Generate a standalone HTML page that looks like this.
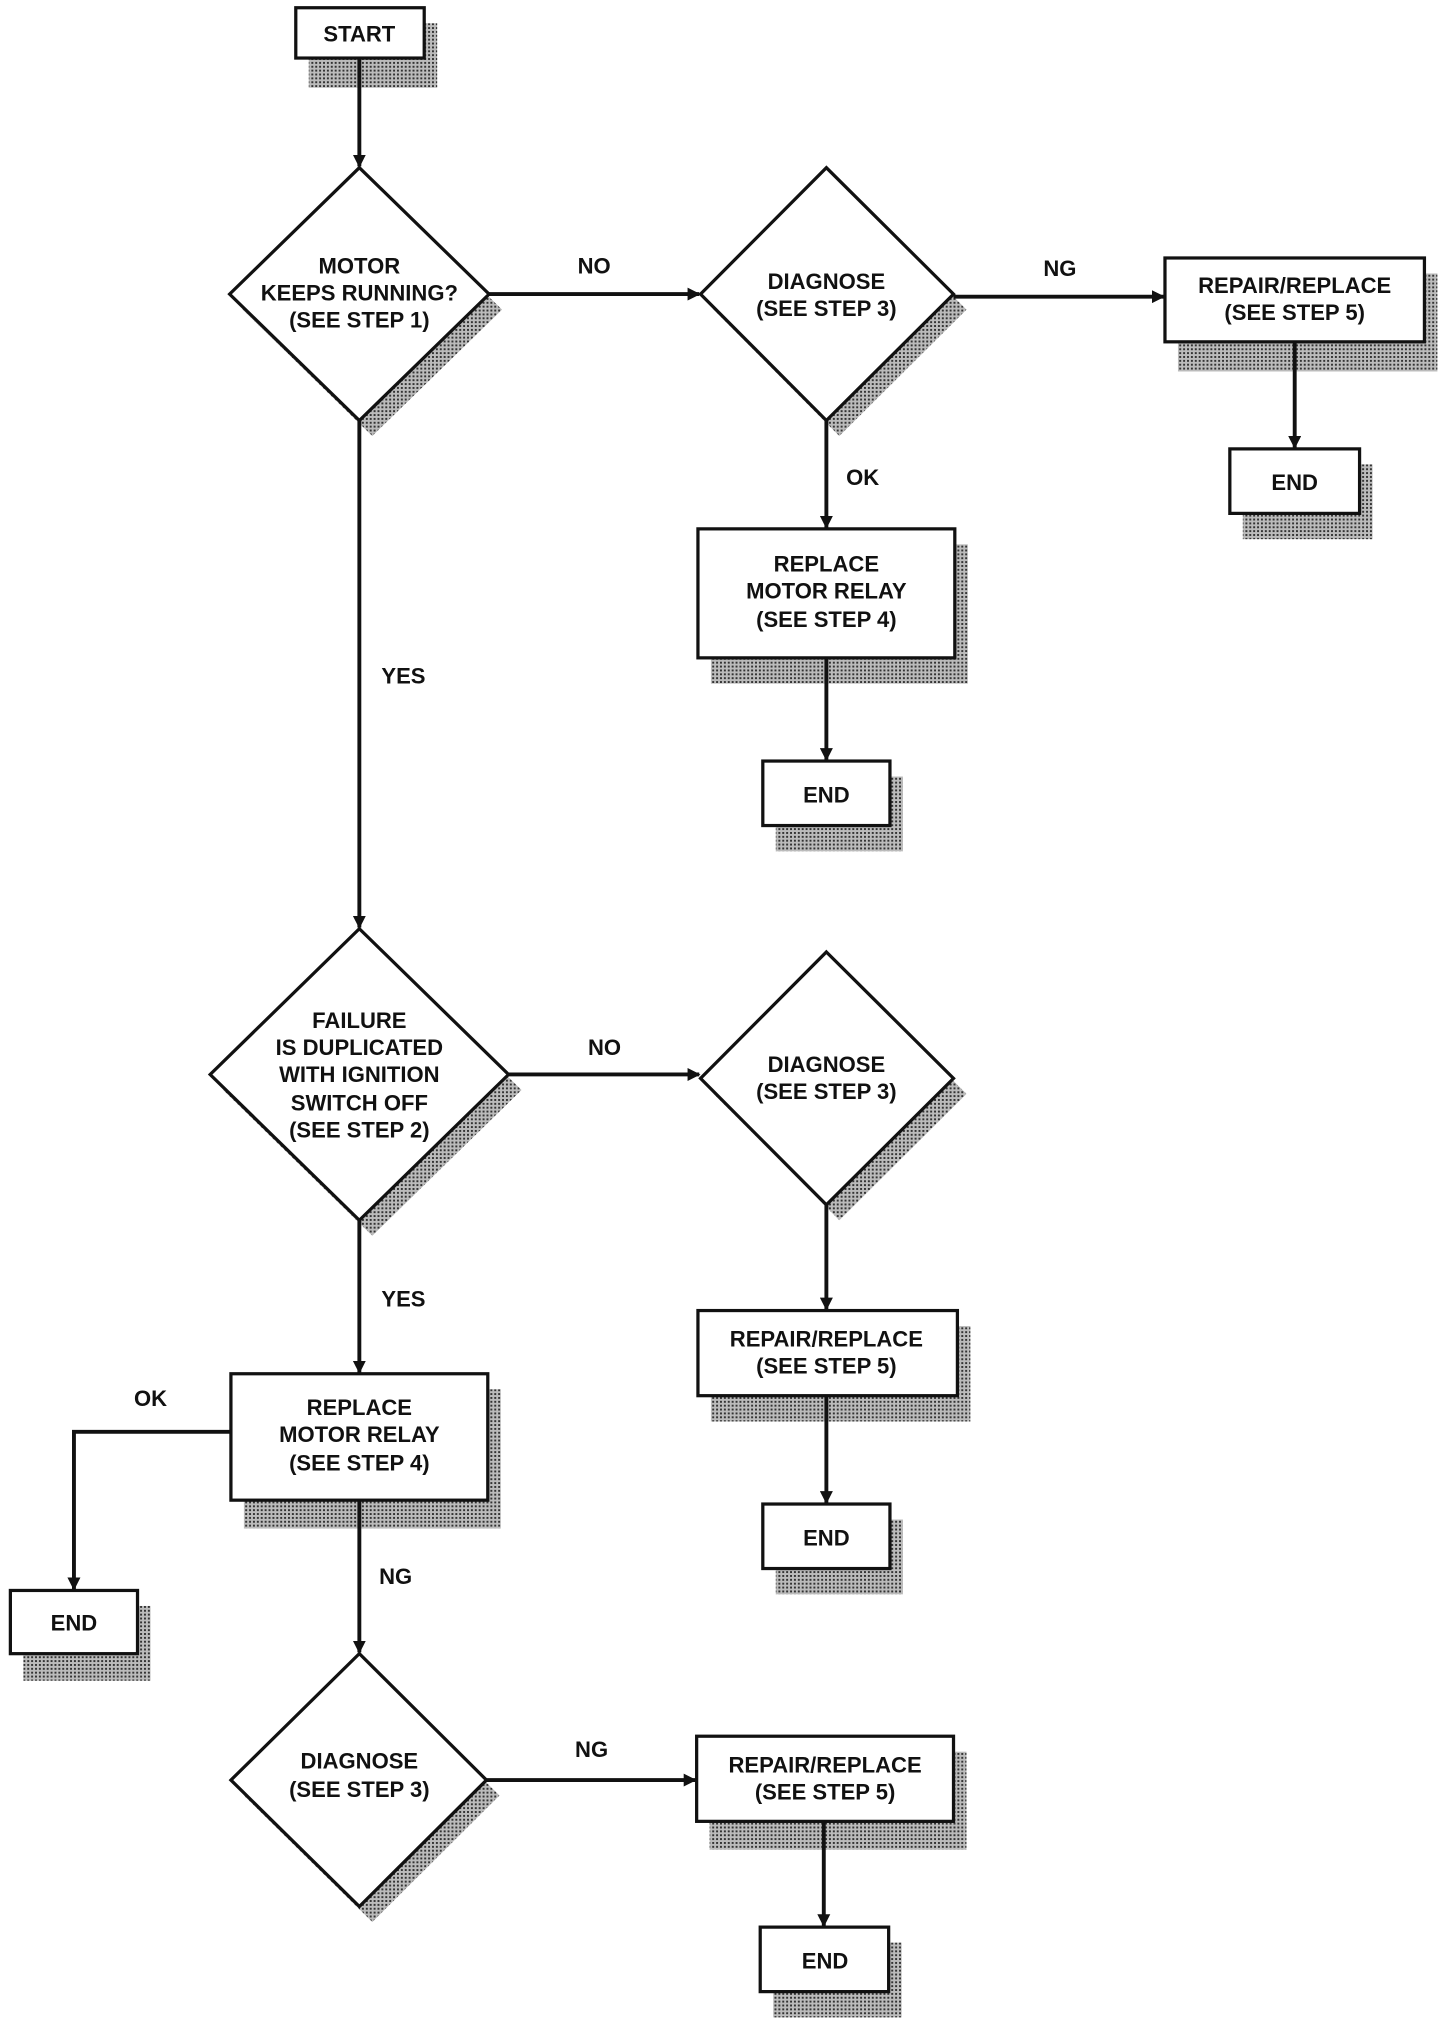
<!DOCTYPE html>
<html><head><meta charset="utf-8"><style>
html,body{margin:0;padding:0;background:#fff;width:1440px;height:2020px;overflow:hidden}
svg text{font-family:"Liberation Sans Narrow","Liberation Sans",sans-serif;font-weight:bold;font-size:17px;fill:#111;text-anchor:middle}
</style></head><body>
<svg width="1440" height="2020" viewBox="0 0 1110 1566" preserveAspectRatio="none" xmlns="http://www.w3.org/2000/svg">
<defs>
<pattern id="ht" width="3" height="3" patternUnits="userSpaceOnUse"><rect width="3" height="3" fill="#bbb"/><rect width="1.5" height="1.5" fill="#333"/></pattern>
<marker id="ar" markerWidth="10" markerHeight="10" refX="9" refY="5" orient="auto" markerUnits="userSpaceOnUse"><path d="M0,0 L10,5 L0,10 Z" fill="#111"/></marker>
</defs>
<g fill="url(#ht)">
<rect x="238" y="18" width="99" height="50"/>
<polygon points="287,142 387,240 287,338 187,240"/>
<polygon points="647,142 745,240 647,338 550,240"/>
<rect x="908" y="212" width="200" height="76"/>
<rect x="958" y="360" width="100" height="58"/>
<rect x="548" y="422" width="198" height="108"/>
<rect x="598" y="602" width="98" height="58"/>
<polygon points="287,732 402,845 287,958 172,845"/>
<polygon points="647,750 745,848 647,946 550,848"/>
<rect x="548" y="1028" width="200" height="74"/>
<rect x="598" y="1178" width="98" height="58"/>
<rect x="188" y="1077" width="198" height="108"/>
<rect x="18" y="1245" width="98" height="58"/>
<polygon points="287,1294 385,1392 287,1490 188,1392"/>
<rect x="547" y="1358" width="198" height="76"/>
<rect x="596" y="1506" width="99" height="58"/>
</g>
<g fill="#fff" stroke="#111" stroke-width="2.5">
<rect x="228" y="6" width="99" height="39"/>
<polygon points="277,130 377,228 277,326 177,228"/>
<polygon points="637,130 735,228 637,326 540,228"/>
<rect x="898" y="200" width="200" height="65"/>
<rect x="948" y="348" width="100" height="50"/>
<rect x="538" y="410" width="198" height="100"/>
<rect x="588" y="590" width="98" height="50"/>
<polygon points="277,720 392,833 277,946 162,833"/>
<polygon points="637,738 735,836 637,934 540,836"/>
<rect x="538" y="1016" width="200" height="66"/>
<rect x="588" y="1166" width="98" height="50"/>
<rect x="178" y="1065" width="198" height="98"/>
<rect x="8" y="1233" width="98" height="49"/>
<polygon points="277,1282 375,1380 277,1478 178,1380"/>
<rect x="537" y="1346" width="198" height="66"/>
<rect x="586" y="1494" width="99" height="50"/>
</g>
<g stroke="#111" stroke-width="3" fill="none" marker-end="url(#ar)">
<line x1="277" y1="45" x2="277" y2="129"/>
<line x1="377" y1="228" x2="539" y2="228"/>
<line x1="735" y1="230" x2="897" y2="230"/>
<line x1="998" y1="265" x2="998" y2="347"/>
<line x1="637" y1="326" x2="637" y2="409"/>
<line x1="637" y1="510" x2="637" y2="589"/>
<line x1="277" y1="326" x2="277" y2="719"/>
<line x1="392" y1="833" x2="539" y2="833"/>
<line x1="637" y1="934" x2="637" y2="1015"/>
<line x1="637" y1="1082" x2="637" y2="1165"/>
<line x1="277" y1="946" x2="277" y2="1064"/>
<polyline points="178,1110 57,1110 57,1232"/>
<line x1="277" y1="1163" x2="277" y2="1281"/>
<line x1="375" y1="1380" x2="536" y2="1380"/>
<line x1="635" y1="1412" x2="635" y2="1493"/>
</g>
<text x="277" y="32">START</text>
<text x="277" y="212">MOTOR</text><text x="277" y="233">KEEPS RUNNING?</text><text x="277" y="254">(SEE STEP 1)</text>
<text x="458" y="212">NO</text>
<text x="637" y="224">DIAGNOSE</text><text x="637" y="245">(SEE STEP 3)</text>
<text x="817" y="214">NG</text>
<text x="998" y="227">REPAIR/REPLACE</text><text x="998" y="248">(SEE STEP 5)</text>
<text x="998" y="380">END</text>
<text x="665" y="376">OK</text>
<text x="637" y="443">REPLACE</text><text x="637" y="464">MOTOR RELAY</text><text x="637" y="486">(SEE STEP 4)</text>
<text x="637" y="622">END</text>
<text x="311" y="530">YES</text>
<text x="277" y="797">FAILURE</text><text x="277" y="818">IS DUPLICATED</text><text x="277" y="839">WITH IGNITION</text><text x="277" y="861">SWITCH OFF</text><text x="277" y="882">(SEE STEP 2)</text>
<text x="466" y="818">NO</text>
<text x="637" y="831">DIAGNOSE</text><text x="637" y="852">(SEE STEP 3)</text>
<text x="637" y="1044">REPAIR/REPLACE</text><text x="637" y="1065">(SEE STEP 5)</text>
<text x="637" y="1198">END</text>
<text x="311" y="1013">YES</text>
<text x="277" y="1097">REPLACE</text><text x="277" y="1118">MOTOR RELAY</text><text x="277" y="1140">(SEE STEP 4)</text>
<text x="116" y="1090">OK</text>
<text x="57" y="1264">END</text>
<text x="305" y="1228">NG</text>
<text x="277" y="1371">DIAGNOSE</text><text x="277" y="1393">(SEE STEP 3)</text>
<text x="456" y="1362">NG</text>
<text x="636" y="1374">REPAIR/REPLACE</text><text x="636" y="1395">(SEE STEP 5)</text>
<text x="636" y="1526">END</text>
</svg>
</body></html>
